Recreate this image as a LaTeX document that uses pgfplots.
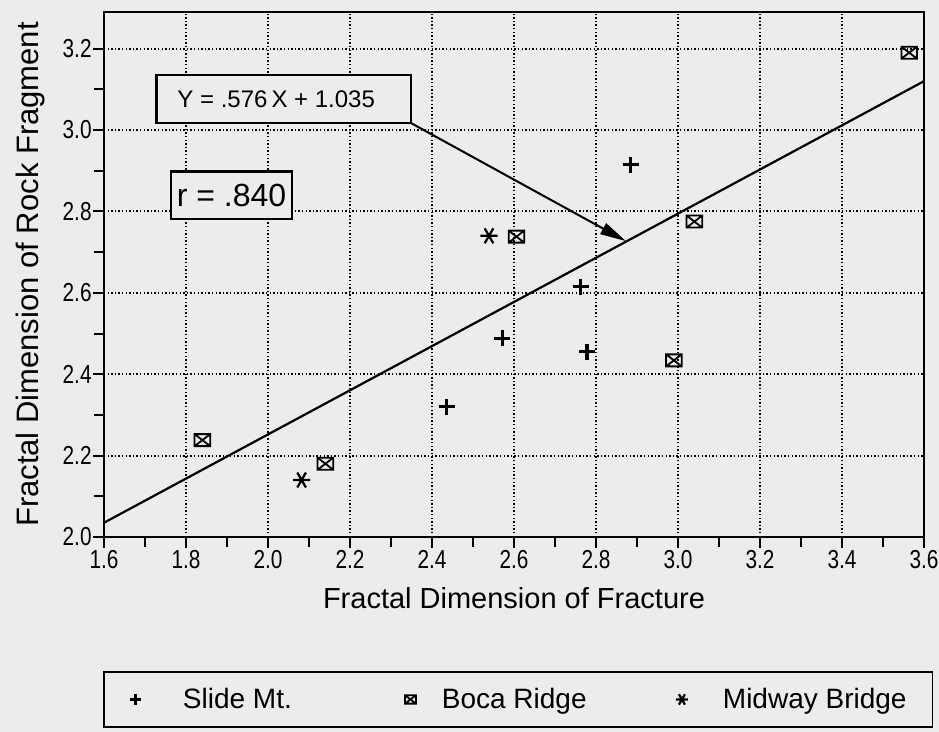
\documentclass[border=0pt]{standalone}
\usepackage{pgfplots}
\pgfplotsset{compat=1.18}
\usepackage{graphicx}
\usepackage{fontspec}
\setmainfont{Liberation Sans}
\usetikzlibrary{arrows.meta}
\definecolor{paper}{RGB}{236,236,238}

\pgfdeclareplotmark{boxx}{%
  \pgfpathrectangle{\pgfqpoint{-1.3\pgfplotmarksize}{-\pgfplotmarksize}}{\pgfqpoint{2.6\pgfplotmarksize}{2\pgfplotmarksize}}%
  \pgfpathmoveto{\pgfqpoint{-1.3\pgfplotmarksize}{-\pgfplotmarksize}}%
  \pgfpathlineto{\pgfqpoint{1.3\pgfplotmarksize}{\pgfplotmarksize}}%
  \pgfpathmoveto{\pgfqpoint{-1.3\pgfplotmarksize}{\pgfplotmarksize}}%
  \pgfpathlineto{\pgfqpoint{1.3\pgfplotmarksize}{-\pgfplotmarksize}}%
  \pgfusepathqstroke
}

\pgfplotstableread{
x y
2.885 2.915
2.763 2.615
2.571 2.488
2.778 2.455
2.436 2.320
}\slide
\pgfplotstableread{
x y
1.840 2.238
2.140 2.180
2.606 2.738
3.040 2.775
2.990 2.434
3.564 3.190
}\boca
\pgfplotstableread{
x y
2.539 2.740
2.082 2.140
}\midway

\begin{document}
\begin{tikzpicture}
\fill[paper] (0,0) rectangle (469.5pt,366pt);
\path[use as bounding box] (0,0) rectangle (469.5pt,366pt);
\begin{axis}[
  at={(52pt,97.5pt)}, anchor=south west,
  scale only axis, width=410pt, height=262.5pt,
  xmin=1.6, xmax=3.6, ymin=2.0, ymax=3.29,
  xtick={1.6,1.8,2.0,2.2,2.4,2.6,2.8,3.0,3.2,3.4,3.6},
  ytick={2.0,2.2,2.4,2.6,2.8,3.0,3.2},
  minor x tick num=1, minor y tick num=1,
  xtick pos=left, ytick pos=left, tick align=outside,
  major tick length=5.5pt, minor tick length=5pt,
  tick style={black, line width=1pt},
  axis line style={black, line width=1pt},
  grid=major,
  major grid style={black, line width=1pt, dash pattern=on 0.7pt off 1.1pt},
  tick label style={font=\fontsize{13}{15}\selectfont},
  xticklabel={\scalebox{0.8}[1]{\pgfmathprintnumber{\tick}}},
  yticklabel={\scalebox{0.8}[1]{\pgfmathprintnumber{\tick}}},
  xticklabel style={inner ysep=1pt},
  yticklabel style={inner xsep=0.5pt},
  /pgf/number format/.cd, fixed, fixed zerofill, precision=1, assume math mode=true,
  /pgfplots/.cd,
  xlabel={Fractal Dimension of Fracture},
  xlabel style={font=\fontsize{14.5}{17}\selectfont, at={([yshift=-30.5pt]rel axis cs:0.5,0)}, anchor=center},
  ylabel={Fractal Dimension of Rock Fragment},
  ylabel style={font=\fontsize{15.5}{18}\selectfont, at={([xshift=-37pt]rel axis cs:0,0.5)}, anchor=center},
  legend columns=3,
  legend image code/.code={\draw[#1, /tikz/every mark/.append style={scale=0.7}] plot coordinates {(0pt,0pt)};},
  legend style={at={([xshift=-0.5pt,yshift=-67pt]rel axis cs:0,0)}, anchor=north west,
    draw=black, line width=0.8pt, fill=paper, inner xsep=13pt, inner ysep=8pt,
    nodes={inner sep=0pt},
    font=\fontsize{14}{16}\selectfont,
    /tikz/column 1/.style={column sep=21pt},
    /tikz/column 3/.style={column sep=13pt},
    /tikz/column 5/.style={column sep=17.5pt}},
]
\addplot[black, line width=1.1pt, forget plot] coordinates {(1.6,2.035) (3.6,3.12)};
\draw[line width=1.1pt, fill=paper] (axis cs:1.728,3.017) rectangle (axis cs:2.349,3.136);
\node[font=\fontsize{12}{14}\selectfont] at (axis cs:2.02,3.0765) {Y = .576\,X + 1.035};
\draw[line width=1.1pt, fill=paper] (axis cs:1.764,2.781) rectangle (axis cs:2.058,2.898);
\node[font=\fontsize{16}{19}\selectfont] at (axis cs:1.911,2.8395) {r = .840};
\draw[line width=1pt, -{Triangle[length=13pt,width=6pt]}, fill=black!80] (axis cs:2.349,3.017) -- (axis cs:2.873,2.727);

\addplot[only marks, mark=+, mark size=4pt, black, line width=1.6pt] table {\slide};
\addlegendentry{\makebox[111pt][l]{Slide Mt.}}
\addplot[only marks, mark=boxx, mark size=3pt, black, line width=0.9pt] table {\boca};
\addlegendentry{\makebox[117pt][l]{Boca Ridge}}
\addplot[only marks, mark=asterisk, mark size=4.3pt, mark options={rotate=90}, black, line width=1.1pt] table {\midway};
\addlegendentry{Midway Bridge}
\end{axis}
\end{tikzpicture}
\end{document}
